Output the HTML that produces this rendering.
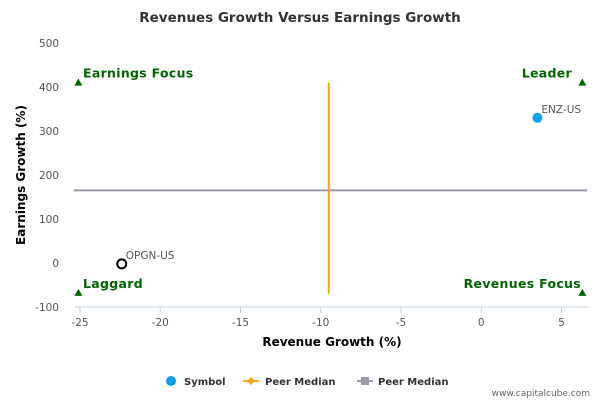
<!DOCTYPE html>
<html><head><meta charset="utf-8"><style>
body{margin:0;background:#fff;font-family:"DejaVu Sans",sans-serif}
svg text{font-family:"DejaVu Sans",sans-serif}
</style></head><body>
<svg id="c" width="600" height="400" xmlns="http://www.w3.org/2000/svg">
<text x="300" y="22" text-anchor="middle" font-size="13.5" font-weight="bold" fill="#333">Revenues Growth Versus Earnings Growth</text>
<g id="g"></g>
<text x="332" y="346" text-anchor="middle" font-size="12" font-weight="bold" fill="#000">Revenue Growth (%)</text>
<text transform="translate(25,175) rotate(-90)" text-anchor="middle" font-size="12" font-weight="bold" fill="#000">Earnings Growth (%)</text>
<g font-size="10" font-weight="bold" fill="#333">
<g><circle cx="171" cy="381" r="5" fill="#0da0ef"/><text x="184" y="385">Symbol</text></g>
<g><line x1="243" y1="381" x2="259" y2="381" stroke="#f5a623" stroke-width="2"/><path d="M251 377 L255 381 L251 385 L247 381Z" fill="#f5a623"/><text x="265" y="385">Peer Median</text></g>
<g><line x1="357" y1="381" x2="373" y2="381" stroke="#9a9aa8" stroke-width="2"/><rect x="361" y="377" width="8" height="8" fill="#9a9aa8"/><text x="378" y="385">Peer Median</text></g>
</g>
<text x="590" y="396" text-anchor="end" font-size="9" fill="#666">www.capitalcube.com</text>
</svg>
<script>
const xTicks=[-25,-20,-15,-10,-5,0,5];
const yTicks=[-100,0,100,200,300,400,500];
const symbols=["OPGN-US","ENZ-US"];
const symX=[-22.4,3.5];
const symY=[-2,330];
const medianX=-9.5;
const medianY=165;
const xMin=-25.4,xMax=6.6,yMin=-100,yMax=500;
const L=75,R=589,T=43,B=307;
const sx=v=>80+(v+25)*16.05;
const sy=v=>263-v*0.44;
const g=document.getElementById('g');
const NS='http://www.w3.org/2000/svg';
function mk(t,a){const e=document.createElementNS(NS,t);for(const k in a)e.setAttribute(k,a[k]);g.appendChild(e);return e;}
let ax=mk('line',{x1:L,y1:B,x2:R,y2:B,stroke:'#c0d0e0'});


xTicks.forEach(v=>{
 let t=mk('line',{x1:sx(v),y1:B,x2:sx(v),y2:B+6,stroke:'#c0d0e0'});
 
 
 let l=mk('text',{x:sx(v),y:B+19,'text-anchor':'middle','font-size':10.5,fill:'#555'});
 l.textContent=v;
 
 
});
yTicks.forEach(v=>{
 let l=mk('text',{x:59,y:sy(v)+4,'text-anchor':'end','font-size':10.5,fill:'#555'});
 l.textContent=v;
 
 
});
let hm=mk('line',{x1:sx(xMin),y1:sy(medianY),x2:sx(xMax),y2:sy(medianY),stroke:'#9a9aa8','stroke-width':2});


let vm=mk('line',{x1:sx(medianX),y1:sy(410),x2:sx(medianX),y2:sy(-70),stroke:'#f5a623','stroke-width':2});


const quads=[["Earnings Focus",-25.1,410,'start',83],["Leader",6.3,410,'end',572],["Laggard",-25.1,-68,'start',83],["Revenues Focus",6.3,-68,'end',581]];
quads.forEach(q=>{
 const x=sx(q[1]),y=sy(q[2]);
 let tr=mk('path',{d:`M${x} ${y-4} L${x+4} ${y+3} L${x-4} ${y+3}Z`,fill:'#006400'});
 
 
 let t=mk('text',{x:q[4],y:y-5,'text-anchor':q[3],'font-size':12.5,'font-weight':'bold',fill:'#006400','letter-spacing':'0.3'});
 t.textContent=q[0];
 
 
});
symbols.forEach((s,i)=>{
 const x=sx(symX[i]),y=sy(symY[i]);
 let c=i===0?mk('circle',{cx:x,cy:y,r:4.5,fill:'#fff',stroke:'#000','stroke-width':2}):mk('circle',{cx:x,cy:y,r:5,fill:'#0da0ef'});
 
 
 let t=mk('text',{x:x+4,y:y-5,'font-size':10.5,fill:'#555'});
 t.textContent=s;
 
 
});
</script>
</body></html>
